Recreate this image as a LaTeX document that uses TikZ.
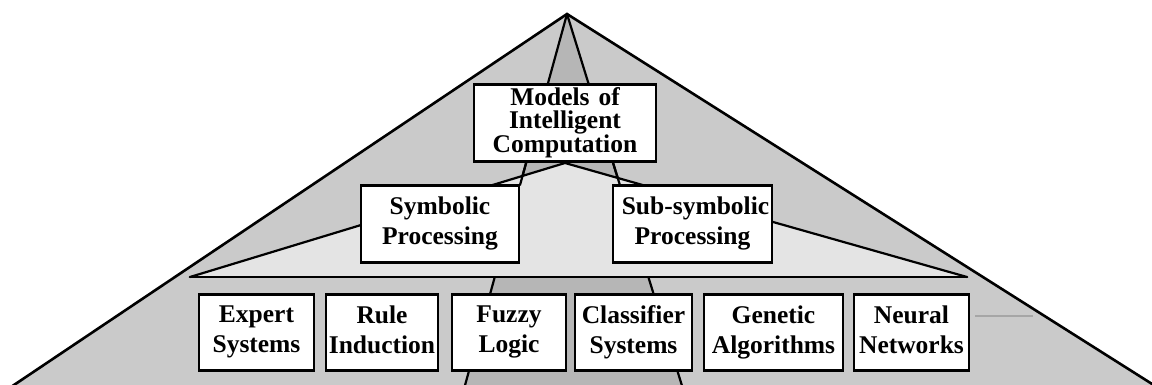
\documentclass[tikz,border=0pt]{standalone}
\usepackage{fontspec}
\setmainfont{Liberation Serif}
\usetikzlibrary{calc}
\definecolor{shadeMid}{RGB}{202,202,202}
\definecolor{shadeDark}{RGB}{182,182,182}
\definecolor{shadeLight}{RGB}{228,228,228}
% struts that fix the first and last baselines inside the boxes
\newcommand\rowtop{\rule[-6pt]{0pt}{30pt}}
\newcommand\midtop{\rule[-6pt]{0pt}{36pt}}
\newcommand\toptop{\rule[-6pt]{0pt}{28pt}}
\newcommand\lastdp{\rule[-6pt]{0pt}{6pt}}
\begin{document}
\begin{tikzpicture}[x=1pt,y=-1pt,
  box/.style={draw=black, line width=2.6pt, fill=white, inner sep=0pt,
    align=center, font=\fontsize{25.5}{30}\bfseries\selectfont,
    minimum height=76.5pt,
    execute at begin node=\rowtop, execute at end node=\lastdp},
  midbox/.style={box, execute at begin node=\midtop},
  topbox/.style={box, font=\fontsize{25.5}{23}\bfseries\selectfont,
    minimum height=77.5pt, execute at begin node=\toptop},
  ridge/.style={line width=2.2pt, line cap=round, line join=round},
  rim/.style={line width=2.6pt, line cap=round}
]
\useasboundingbox (0,0) rectangle (1152,385);
\clip (0,0) rectangle (1152,385);

% key points of the pyramid
\coordinate (apex) at (567,14);
\coordinate (baseL) at (8,389);
\coordinate (baseR) at (1160,389);
\coordinate (coneL) at (464,389);
\coordinate (coneR) at (683,389);
\coordinate (fanTop) at (565,163);
\coordinate (barL) at (190,277);
\coordinate (barR) at (967,277);

% shaded faces
\fill[shadeMid] (apex) -- (baseL) -- (baseR) -- cycle;
\fill[shadeDark] (apex) -- (coneL) -- (coneR) -- cycle;
\draw[ridge] (apex) -- (coneL) (apex) -- (coneR);
\fill[shadeLight] (fanTop) -- (barL) -- (barR) -- cycle;
\draw[ridge] (barL) -- (fanTop) -- (barR);
\draw[ridge] ($(apex)!0.3973!(coneL)$) -- ($(apex)!0.456!(coneL)$);
\draw[ridge] ($(apex)!0.3973!(coneR)$) -- ($(apex)!0.456!(coneR)$);
\draw[rim] (barL) -- (barR);
\draw[rim] (baseL) -- (apex) -- (baseR);

% faint trace right of the last box
\draw[gray!70, line width=2pt] (975,316) -- (1033,316);

% boxes
\node[topbox, minimum width=182pt] (mic) at (565,123)
  {Models\hspace{0.35em}of\\Intelligent\\Computation};
\node[midbox, minimum width=158pt] (sym) at (440,224) {Symbolic\\Processing};
\node[midbox, minimum width=159pt] (sub) at (692.5,224)
  {\hspace*{6pt}Sub-symbolic\\Processing};

\node[box, minimum width=115pt] (exp) at (256.5,332.5) {Expert\\Systems};
\node[box, minimum width=112pt] (rul) at (382,332.5) {Rule\\Induction};
\node[box, minimum width=114pt] (fuz) at (509,332.5) {Fuzzy\\Logic};
\node[box, minimum width=117pt] (cla) at (633.5,332.5) {Classifier\\Systems};
\node[box, minimum width=139pt] (gen) at (773.5,332.5) {Genetic\\Algorithms};
\node[box, minimum width=115pt] (neu) at (911.5,332.5) {Neural\\Networks};
\end{tikzpicture}
\end{document}
